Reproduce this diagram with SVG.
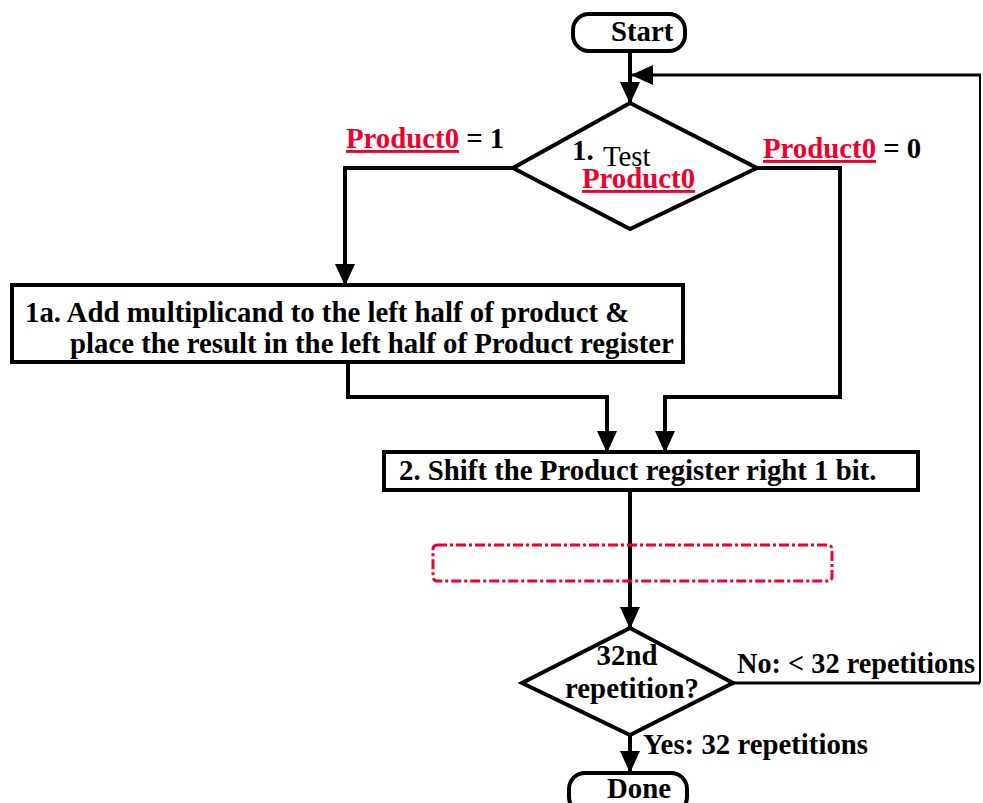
<svg xmlns="http://www.w3.org/2000/svg" width="983" height="803" viewBox="0 0 983 803">
  <defs>
    <style>
      .t { font-family: "Liberation Serif", "Times New Roman", serif; font-weight: bold; font-size: 28.8px; fill: #000; }
      .reg { font-weight: normal; }
      .red { fill: #f0002c; text-decoration: underline; }
      .shape { fill: #fff; stroke: #000; stroke-width: 4; }
      .wire { fill: none; stroke: #000; stroke-width: 4; stroke-linejoin: miter; }
      .thin { stroke-width: 3; }
    </style>
    <marker id="arrow" viewBox="0 0 22 20" refX="21" refY="10" markerWidth="22" markerHeight="20" markerUnits="userSpaceOnUse" orient="auto">
      <path d="M0,0 L22,10 L0,20 z" fill="#000"/>
    </marker>
  </defs>
  <rect width="983" height="803" fill="#fff"/>

  <!-- connectors -->
  <g id="connectors">
    <path class="wire" d="M630,51 V103" marker-end="url(#arrow)"/>
    <path class="wire" d="M513,168 H345 V285" marker-end="url(#arrow)"/>
    <path class="wire" d="M757,168 H840 V397 H665 V452" marker-end="url(#arrow)"/>
    <path class="wire" d="M348,362 V397 H607 V452" marker-end="url(#arrow)"/>
    <path class="wire" d="M630,490 V628" marker-end="url(#arrow)"/>
    <path class="wire thin" d="M733,683 H980" />
    <path class="wire" style="stroke-width:2" d="M980,683 V75" />
    <path class="wire thin" d="M981,75 H632" marker-end="url(#arrow)"/>
    <path class="wire" d="M630,735 V772" marker-end="url(#arrow)"/>
  </g>

  <g id="start">
    <rect class="shape" x="573" y="14" width="112" height="37" rx="16"/>
    <text class="t" x="611" y="41">Start</text>
  </g>

  <g id="test">
    <polygon class="shape" points="630,103 757,168 630,229 513,168"/>
    <text class="t" x="572" y="160">1.</text>
    <text class="t reg" x="603" y="166">Test</text>
    <text class="t red" x="582" y="188">Product0</text>
  </g>

  <g id="label-one">
    <text class="t" x="346" y="148"><tspan class="red">Product0</tspan> = 1</text>
  </g>
  <g id="label-zero">
    <text class="t" x="763" y="158"><tspan class="red">Product0</tspan> = 0</text>
  </g>

  <g id="add">
    <rect class="shape" x="12" y="285" width="671" height="77"/>
    <text class="t" x="25" y="322">1a. Add multiplicand to the left half of product &amp;</text>
    <text class="t" x="70" y="353">place the result in the left half of Product register</text>
  </g>

  <g id="shift">
    <rect class="shape" x="384" y="452" width="534" height="38"/>
    <text class="t" x="399" y="480">2. Shift the Product register right 1 bit.</text>
  </g>

  <g id="placeholder">
    <rect x="433" y="545" width="399" height="36" rx="4" fill="none" stroke="#f0002c" stroke-width="3" stroke-dasharray="10 3 3 3"/>
  </g>

  <g id="repeat">
    <polygon class="shape" points="630,628 733,683 630,735 522,683"/>
    <text class="t" x="627" y="665" text-anchor="middle">32nd</text>
    <text class="t" x="632" y="698" text-anchor="middle">repetition?</text>
  </g>

  <g id="label-no">
    <text class="t" x="737" y="673" textLength="238" lengthAdjust="spacingAndGlyphs">No: &lt; 32 repetitions</text>
  </g>
  <g id="label-yes">
    <text class="t" x="643" y="754">Yes: 32 repetitions</text>
  </g>

  <g id="done">
    <rect class="shape" x="569" y="773" width="118" height="40" rx="16"/>
    <text class="t" x="607" y="798">Done</text>
  </g>
</svg>
